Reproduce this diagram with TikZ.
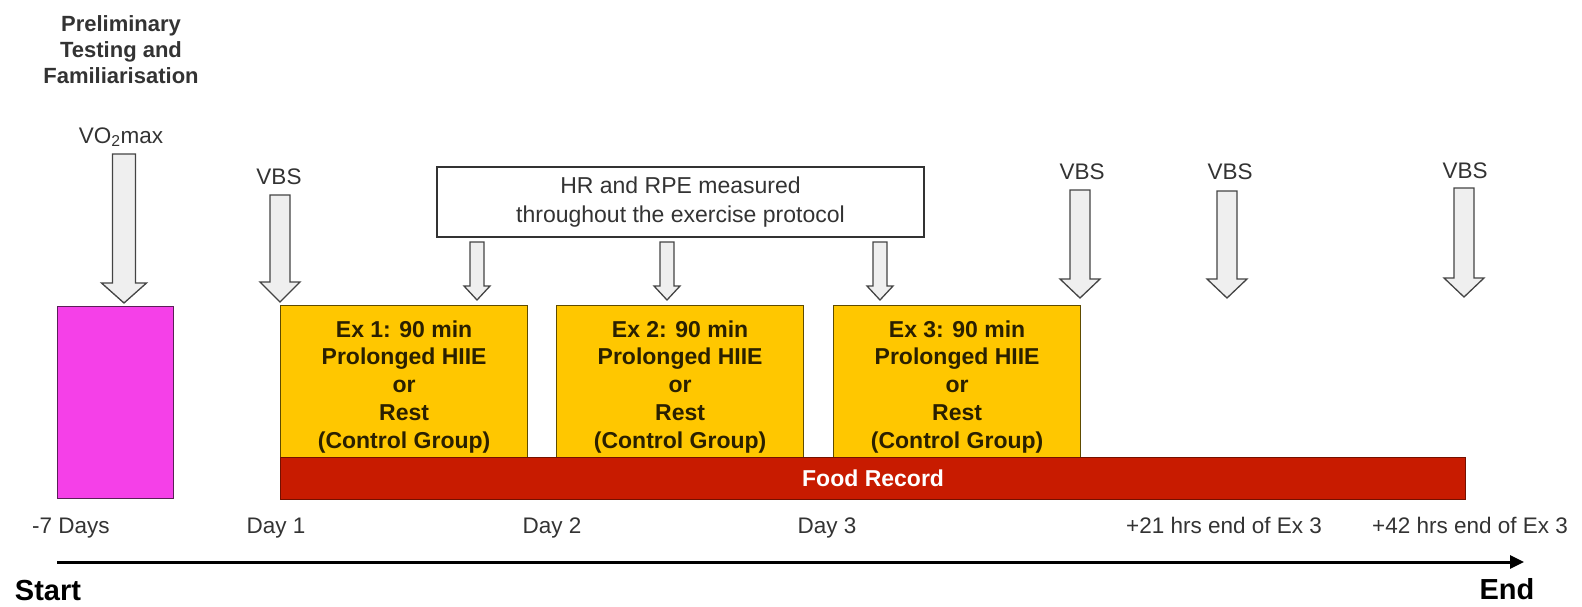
\documentclass[tikz,border=0pt]{standalone}
\usepackage{fontspec}
\setmainfont{Liberation Sans}
\usetikzlibrary{calc,arrows.meta}
\definecolor{txtgray}{HTML}{333333}
\definecolor{magfill}{HTML}{F540E8}
\definecolor{magline}{HTML}{5A2058}
\definecolor{goldfill}{HTML}{FFC700}
\definecolor{goldline}{HTML}{5E4B00}
\definecolor{extext}{HTML}{2A2000}
\definecolor{redfill}{HTML}{C81B00}
\definecolor{redline}{HTML}{741000}
\definecolor{arrfill}{HTML}{EFEFEF}
\definecolor{arrline}{HTML}{444444}
\newcommand\blockarr[5]{%
  \draw[barrow] let \p1=(#1), \p2=(#2) in
    (\x2-#3,\y1) -- (\x2+#3,\y1) -- (\x2+#3,\y2+#5) -- (\x2+#4,\y2+#5)
    -- (\x2,\y2) -- (\x2-#4,\y2+#5) -- (\x2-#3,\y2+#5) -- cycle;}
\begin{document}
\begin{tikzpicture}[x=1pt,y=-1pt,
  lbl/.style={font=\fontsize{22.5}{27}\selectfont, text=txtgray, inner sep=0pt},
  headtxt/.style={font=\fontsize{22}{26}\selectfont\bfseries, text=txtgray, align=center, inner sep=0pt},
  bigtxt/.style={font=\fontsize{29}{33}\selectfont\bfseries, text=black, inner sep=0pt, anchor=base},
  magbox/.style={draw=magline, fill=magfill, line width=1.2pt, minimum width=116pt, minimum height=192pt, inner sep=0pt, anchor=north west},
  exbox/.style={draw=goldline, fill=goldfill, line width=1.2pt, minimum width=247pt, minimum height=152pt, inner sep=0pt, anchor=north west},
  extxt/.style={font=\fontsize{23}{27.75}\selectfont\bfseries, text=extext, align=center, inner sep=0pt},
  foodbar/.style={draw=redline, fill=redfill, line width=1.2pt, minimum width=1185pt, minimum height=42pt, inner sep=0pt, anchor=north west, font=\fontsize{23}{27}\selectfont\bfseries, text=white},
  hrbox/.style={draw=black!80, fill=white, line width=1.6pt, minimum width=487pt, minimum height=70pt, inner sep=0pt, align=center, font=\fontsize{23}{29}\selectfont, text=txtgray},
  barrow/.style={draw=arrline, fill=arrfill, line width=1.3pt, line join=miter}
]
\useasboundingbox (0,0) rectangle (1582,606);

% heading and VO2max
\node[headtxt] (prelim) at (121,50) {Preliminary\\Testing and\\Familiarisation};
\node[lbl, anchor=base] (vo2) at (121,143) {VO\textsubscript{2}max};
\node[magbox] (mag) at (57,306) {};

% exercise boxes
\node[exbox] (ex1) at (280,305) {};
\node[exbox] (ex2) at (556,305) {};
\node[exbox] (ex3) at (833,305) {};
\node[extxt] (ex1t) at ($(ex1.center)+(0,5)$) {Ex 1: 90 min\\Prolonged HIIE\\or\\Rest\\(Control Group)};
\node[extxt] (ex2t) at ($(ex2.center)+(0,5)$) {Ex 2: 90 min\\Prolonged HIIE\\or\\Rest\\(Control Group)};
\node[extxt] (ex3t) at ($(ex3.center)+(0,5)$) {Ex 3: 90 min\\Prolonged HIIE\\or\\Rest\\(Control Group)};

% food record
\node[foodbar] (food) at (280,457) {\raisebox{-3pt}{Food Record}};

% HR box
\node[hrbox] (hr) at (680.5,202) {HR and RPE measured\\throughout the exercise protocol};

% VBS labels
\node[lbl, anchor=base] (vbs1) at (279,184) {VBS};
\node[lbl, anchor=base] (vbs2) at (1082,179) {VBS};
\node[lbl, anchor=base] (vbs3) at (1230,179) {VBS};
\node[lbl, anchor=base] (vbs4) at (1465,178) {VBS};

% arrow end points
\coordinate (a0s) at (124,154);  \coordinate (a0e) at (124,303);
\coordinate (a1s) at (280,195);  \coordinate (a1e) at (280,302);
\coordinate (a2s) at (1080,190); \coordinate (a2e) at (1080,298);
\coordinate (a3s) at (1227,191); \coordinate (a3e) at (1227,298);
\coordinate (a4s) at (1464,188); \coordinate (a4e) at (1464,297);
\coordinate (h1s) at (477,242);  \coordinate (h1e) at (477,300);
\coordinate (h2s) at (667,242);  \coordinate (h2e) at (667,300);
\coordinate (h3s) at (880,242);  \coordinate (h3e) at (880,300);

\blockarr{a0s}{a0e}{11.5pt}{22.5pt}{20pt}
\blockarr{a1s}{a1e}{10pt}{20pt}{20pt}
\blockarr{a2s}{a2e}{10pt}{20pt}{19pt}
\blockarr{a3s}{a3e}{10pt}{20pt}{19pt}
\blockarr{a4s}{a4e}{10pt}{20pt}{19pt}
\blockarr{h1s}{h1e}{7pt}{13pt}{14pt}
\blockarr{h2s}{h2e}{7pt}{13pt}{14pt}
\blockarr{h3s}{h3e}{7pt}{13pt}{14pt}

% day labels
\node[lbl, anchor=base] (dm7) at (71,533) {-7 Days};
\node[lbl, anchor=base] (d1) at (276,533) {Day 1};
\node[lbl, anchor=base] (d2) at (552,533) {Day 2};
\node[lbl, anchor=base] (d3) at (827,533) {Day 3};
\node[lbl, anchor=base] (h21) at (1224,533) {+21 hrs end of Ex 3};
\node[lbl, anchor=base] (h42) at (1470,533) {+42 hrs end of Ex 3};

% timeline
\coordinate (tl0) at (57,562);
\coordinate (tl1) at (1524,562);
\draw[line width=3pt, -{Triangle[length=14pt,width=13pt]}] (tl0) -- (tl1);
\node[bigtxt] (start) at (48,600) {Start};
\node[bigtxt] (end) at (1507,599) {End};
\end{tikzpicture}
\end{document}
